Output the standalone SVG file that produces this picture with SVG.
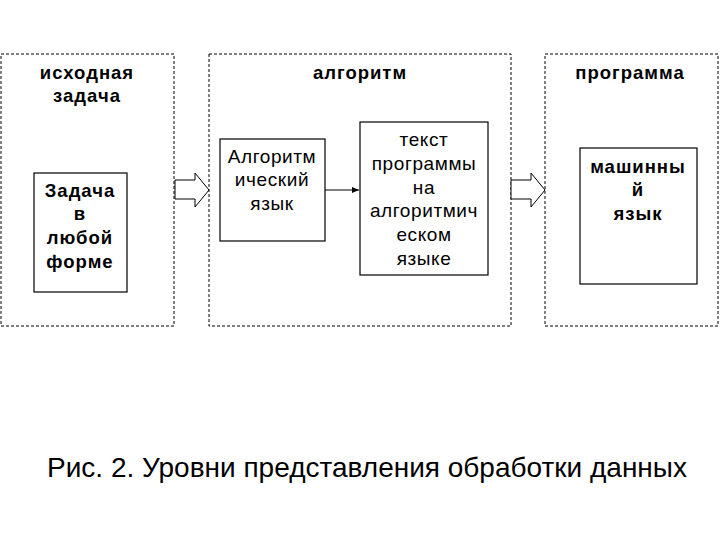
<svg xmlns="http://www.w3.org/2000/svg" width="720" height="540" viewBox="0 0 720 540">
<style>
.grp{fill:none;stroke:#000;stroke-width:1;stroke-dasharray:3,2}
.box{fill:#fff;stroke:#000;stroke-width:1.2}
.b{font-family:"Liberation Sans",Arial,sans-serif;font-size:18.5px;font-weight:bold;text-anchor:middle;letter-spacing:1px}
.n{font-family:"Liberation Sans",Arial,sans-serif;font-size:19px;text-anchor:middle;letter-spacing:0.6px}
</style>
<defs><marker id="ah" markerWidth="8" markerHeight="8" refX="7" refY="3" orient="auto" markerUnits="userSpaceOnUse"><path d="M0,0L7,3L0,6z"/></marker></defs>
<rect width="720" height="540" fill="#fff"/>
<g id="g1"><rect class="grp" x="1" y="54" width="173" height="272"/><text class="b" x="87" y="79">исходная</text><text class="b" x="87" y="102">задача</text></g>
<g id="g2"><rect class="grp" x="209" y="54" width="302" height="272"/><text class="b" x="360" y="79">алгоритм</text></g>
<g id="g3"><rect class="grp" x="545" y="54" width="173" height="272"/><text class="b" x="630" y="79">программа</text></g>
<g id="n1"><rect class="box" x="34" y="173" width="93" height="119"/><text class="b" x="80" y="197">Задача</text><text class="b" x="80" y="220">в</text><text class="b" x="80" y="244">любой</text><text class="b" x="80" y="268">форме</text></g>
<g id="n2"><rect class="box" x="220" y="139" width="105" height="102"/><text class="n" x="272" y="163">Алгоритм</text><text class="n" x="272" y="186">ический</text><text class="n" x="272" y="210">язык</text></g>
<g id="n3"><rect class="box" x="360" y="122" width="128" height="153"/><text class="n" x="424" y="146">текст</text><text class="n" x="424" y="170">программы</text><text class="n" x="424" y="194">на</text><text class="n" x="424" y="217">алгоритмич</text><text class="n" x="424" y="241">еском</text><text class="n" x="424" y="265">языке</text></g>
<g id="n4"><rect class="box" x="580" y="148" width="117" height="136"/><text class="b" x="638" y="173">машинны</text><text class="b" x="638" y="196">й</text><text class="b" x="638" y="220">язык</text></g>
<g id="connectors">
<path d="M175,180H195V173L209,190L195,207V199H175z" fill="#fff" stroke="#000"/>
<path d="M511,180H531V173L545,190L531,207V199H511z" fill="#fff" stroke="#000"/>
<line x1="325" y1="190" x2="359" y2="190" stroke="#000" marker-end="url(#ah)"/>
</g>
<text x="367" y="477" font-family="Liberation Sans,Arial,sans-serif" font-size="28" text-anchor="middle">Рис. 2. Уровни представления обработки данных</text>
</svg>
